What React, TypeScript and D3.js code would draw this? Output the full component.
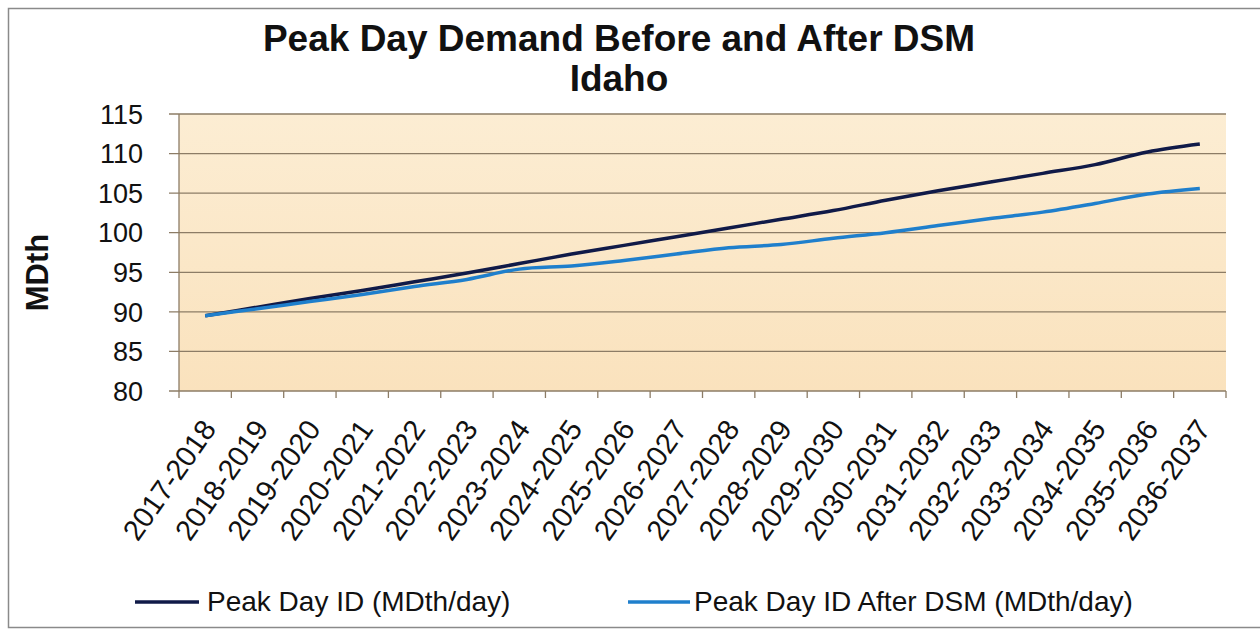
import { useEffect, useRef } from 'react'
import * as d3 from 'd3'

const seasons = [
  '2017-2018', '2018-2019', '2019-2020', '2020-2021', '2021-2022',
  '2022-2023', '2023-2024', '2024-2025', '2025-2026', '2026-2027',
  '2027-2028', '2028-2029', '2029-2030', '2030-2031', '2031-2032',
  '2032-2033', '2033-2034', '2034-2035', '2035-2036', '2036-2037',
]

// Peak Day ID (MDth/day)
const peakDay = [
  89.5, 90.6, 91.7, 92.7, 93.8, 94.9, 96.1, 97.3, 98.4, 99.5,
  100.6, 101.7, 102.8, 104.1, 105.3, 106.4, 107.5, 108.6, 110.2, 111.2,
]

// Peak Day ID After DSM (MDth/day)
const peakDayDsm = [
  89.5, 90.4, 91.3, 92.2, 93.2, 94.1, 95.4, 95.8, 96.5, 97.3,
  98.1, 98.5, 99.3, 100.0, 100.9, 101.8, 102.6, 103.7, 104.9, 105.6,
]

const yTicks = [80, 85, 90, 95, 100, 105, 110, 115]

const series = [
  { name: 'Peak Day ID (MDth/day)', values: peakDay, color: '#101a48' },
  { name: 'Peak Day ID After DSM (MDth/day)', values: peakDayDsm, color: '#1f7fcc' },
]

const font = '"Liberation Sans", Arial, sans-serif'

export default function App() {
  const ref = useRef<SVGSVGElement>(null)

  const plot = { left: 179, right: 1226, top: 114, bottom: 391 }

  useEffect(() => {
    if (!ref.current) return
    const svg = d3.select(ref.current)
    svg.selectAll('*').remove()

    const x = d3.scaleBand().domain(seasons).range([plot.left, plot.right])
    const cx = (s: string) => (x(s) ?? 0) + x.bandwidth() / 2
    const y = d3.scaleLinear().domain([80, 115]).range([plot.bottom, plot.top])

    // plot background gradient
    const defs = svg.append('defs')
    const grad = defs
      .append('linearGradient')
      .attr('id', 'bg')
      .attr('x1', 0)
      .attr('y1', 0)
      .attr('x2', 0)
      .attr('y2', 1)
    grad.append('stop').attr('offset', '0%').attr('stop-color', '#fcedd3')
    grad.append('stop').attr('offset', '100%').attr('stop-color', '#fae2bd')

    // outer border
    svg
      .append('rect')
      .attr('x', 8.5)
      .attr('y', 8.5)
      .attr('width', 1300)
      .attr('height', 619)
      .attr('fill', '#fff')
      .attr('stroke', '#8a8a8a')
      .attr('stroke-width', 1.5)

    svg
      .append('rect')
      .attr('x', plot.left)
      .attr('y', plot.top)
      .attr('width', plot.right - plot.left)
      .attr('height', plot.bottom - plot.top)
      .attr('fill', 'url(#bg)')

    // gridlines + y ticks
    svg
      .append('g')
      .selectAll('line')
      .data(yTicks)
      .enter()
      .append('line')
      .attr('x1', plot.left - 10)
      .attr('x2', plot.right)
      .attr('y1', (d) => y(d))
      .attr('y2', (d) => y(d))
      .attr('stroke', '#8c7c66')
      .attr('stroke-width', 1.3)

    svg
      .append('g')
      .selectAll('text')
      .data(yTicks)
      .enter()
      .append('text')
      .attr('x', 143)
      .attr('y', (d) => y(d))
      .attr('dy', '0.36em')
      .attr('text-anchor', 'end')
      .style('font', `27px ${font}`)
      .attr('fill', '#111')
      .text((d) => d)

    // y axis line
    svg
      .append('line')
      .attr('x1', plot.left)
      .attr('x2', plot.left)
      .attr('y1', plot.top)
      .attr('y2', plot.bottom)
      .attr('stroke', '#8c7c66')
      .attr('stroke-width', 1.3)

    // x ticks
    const bounds = d3.range(seasons.length + 1).map((i) => plot.left + i * x.step())
    svg
      .append('g')
      .selectAll('line')
      .data(bounds)
      .enter()
      .append('line')
      .attr('x1', (d) => d)
      .attr('x2', (d) => d)
      .attr('y1', plot.bottom)
      .attr('y2', plot.bottom + 7)
      .attr('stroke', '#8c7c66')
      .attr('stroke-width', 1.3)

    svg
      .append('g')
      .selectAll('text')
      .data(seasons)
      .enter()
      .append('text')
      .attr('transform', (d) => `translate(${cx(d) + 12}, ${plot.bottom + 38}) rotate(-55)`)
      .attr('text-anchor', 'end')
      .style('font', `29px ${font}`)
      .attr('fill', '#111')
      .text((d) => d)

    // lines
    const line = d3
      .line<number>()
      .x((_, i) => cx(seasons[i]))
      .y((d) => y(d))
      .curve(d3.curveCatmullRom.alpha(0.5))

    series.forEach((s) => {
      svg
        .append('path')
        .datum(s.values)
        .attr('d', line)
        .attr('fill', 'none')
        .attr('stroke', s.color)
        .attr('stroke-width', 3.5)
        .attr('stroke-linejoin', 'round')
    })

    // title
    svg
      .append('text')
      .attr('x', 619)
      .attr('y', 51)
      .attr('text-anchor', 'middle')
      .style('font', `bold 37px ${font}`)
      .attr('fill', '#111')
      .text('Peak Day Demand Before and After DSM')
    svg
      .append('text')
      .attr('x', 619)
      .attr('y', 91)
      .attr('text-anchor', 'middle')
      .style('font', `bold 37px ${font}`)
      .attr('fill', '#111')
      .text('Idaho')

    // y axis label
    svg
      .append('text')
      .attr('transform', `translate(48, ${(plot.top + plot.bottom) / 2 + 20}) rotate(-90)`)
      .attr('text-anchor', 'middle')
      .style('font', `bold 31px ${font}`)
      .attr('fill', '#111')
      .text('MDth')

    // legend
    const legend = [
      { x: 135, len: 64, gap: 72 },
      { x: 628, len: 62, gap: 66 },
    ]
    series.forEach((s, i) => {
      const g = svg.append('g').attr('transform', `translate(${legend[i].x}, 602)`)
      g.append('line')
        .attr('x1', 0)
        .attr('x2', legend[i].len)
        .attr('stroke', s.color)
        .attr('stroke-width', 3.5)
      g.append('text')
        .attr('x', legend[i].gap)
        .attr('y', 9)
        .style('font', `28px ${font}`)
        .attr('fill', '#111')
        .text(s.name)
    })
  }, [])

  return (
    <svg
      ref={ref}
      width={1260}
      height={633}
      style={{ position: 'absolute', left: 0, top: 0 }}
    />
  )
}
